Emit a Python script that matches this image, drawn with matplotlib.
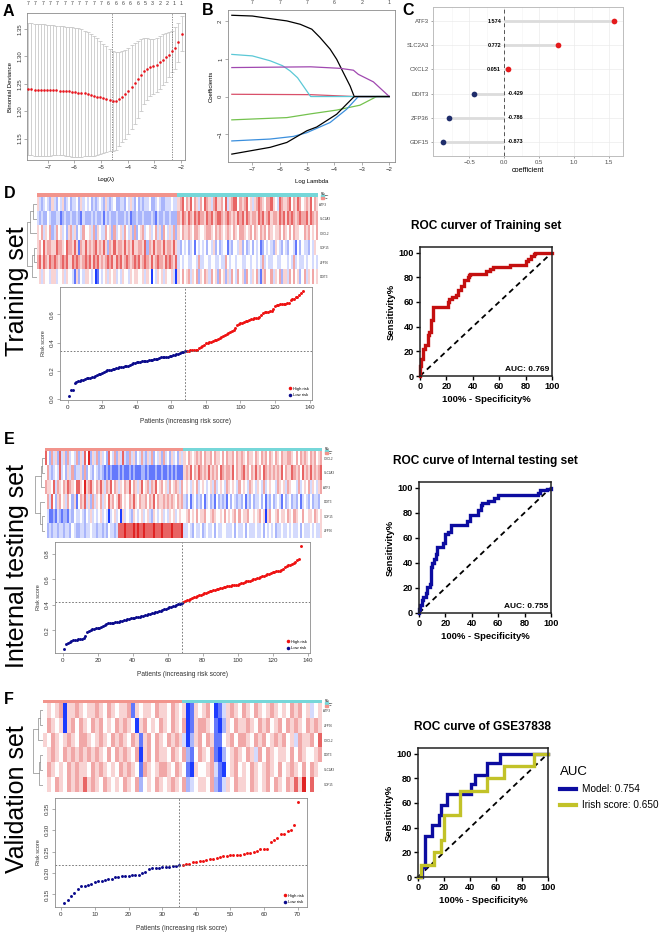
import numpy as np
import matplotlib
matplotlib.use("Agg")
import matplotlib.pyplot as plt
from matplotlib.colors import LinearSegmentedColormap, ListedColormap

plt.rcParams["font.family"] = ["Liberation Sans", "DejaVu Sans"]

# ---------------------------------------------------------------- data
# A: LASSO cross-validation curve
log_lambda = np.linspace(-7.73, -1.98, 50)
cv_mean = [1.240, 1.240, 1.2395, 1.239, 1.239, 1.2387, 1.2385, 1.238, 1.238, 1.2378,
           1.2375, 1.237, 1.2365, 1.236, 1.235, 1.2344, 1.234, 1.233, 1.2326, 1.231,
           1.2295, 1.228, 1.2265, 1.225, 1.2234, 1.222, 1.2203, 1.2185, 1.219, 1.222,
           1.2265, 1.231, 1.2375, 1.2436, 1.251, 1.258, 1.266, 1.2735, 1.277, 1.2797,
           1.2815, 1.2846, 1.289, 1.2937, 1.298, 1.303, 1.309, 1.315, 1.3255, 1.341]
cv_sd = [0.120, 0.120, 0.1203, 0.1205, 0.120, 0.1198, 0.1195, 0.1193, 0.1186, 0.118,
         0.1175, 0.1175, 0.1175, 0.1175, 0.1177, 0.1176, 0.117, 0.1167, 0.1144, 0.113,
         0.1105, 0.109, 0.1065, 0.103, 0.0996, 0.096, 0.0927, 0.0905, 0.089, 0.086,
         0.0825, 0.081, 0.0785, 0.0764, 0.074, 0.070, 0.066, 0.0605, 0.057, 0.0523,
         0.0495, 0.0494, 0.048, 0.0463, 0.044, 0.041, 0.038, 0.038, 0.0355, 0.032]
lambda_min, lambda_1se = -4.6, -2.33
top_counts_a = [7] * 11 + [6] * 5 + [5, 3, 2, 2, 1, 1]

# B: coefficient paths (log lambda, coefficient)
paths = [
    ([-7.75, -7.0, -6.35, -5.74, -5.25, -4.83, -4.53, -4.16, -3.92, -3.68, -3.43, -3.28, -2.0],
     [2.16, 2.14, 2.07, 2.01, 1.92, 1.79, 1.57, 1.26, 0.99, 0.64, 0.28, 0.0, 0.0], "black"),
    ([-7.75, -4.87, -3.28, -2.0], [0.06, 0.05, 0.0, 0.0], "#D9506A"),
    ([-7.75, -5.74, -4.87, -3.92, -3.07, -2.46, -2.0], [-0.62, -0.56, -0.46, -0.36, -0.23, 0.0, 0.0], "#74C24E"),
    ([-7.75, -6.35, -5.5, -5.01, -4.16, -3.56, -3.13, -2.0], [-1.18, -1.13, -1.06, -0.96, -0.69, -0.34, 0.0, 0.0], "#3B8FDD"),
    ([-7.75, -7.0, -6.35, -5.9, -5.62, -5.35, -5.14, -4.95, -4.87, -2.0],
     [1.12, 1.08, 0.95, 0.82, 0.68, 0.50, 0.28, 0.08, 0.0, 0.0], "#5BC8D6"),
    ([-7.75, -4.87, -3.8, -3.31, -3.13, -2.58, -2.0], [0.77, 0.79, 0.75, 0.70, 0.59, 0.39, 0.0], "#A048B0"),
    ([-7.75, -6.35, -5.74, -5.01, -4.65, -3.92, -3.28, -2.0], [-1.53, -1.35, -1.22, -0.91, -0.81, -0.47, 0.0, 0.0], "black"),
]
top_counts_b = [7, 7, 7, 6, 2, 1]

# C: model coefficients
coef_genes = ["ATF3", "SLC2A3", "CXCL2", "DDIT3", "ZFP36", "GDF15"]
coef_values = [1.574, 0.772, 0.051, -0.429, -0.786, -0.873]

# heatmaps: one character per patient, 0 = deep blue, 4 = white, 8 = deep red
d_genes = ["ATF3", "SLC2A3", "CXCL2", "GDF15", "ZFP36", "DDIT3"]
d_rows = [
    "53234325 32435234 23342534 34232343 25323422 33243532 42323342 23432233 34335674 65746536 47653675 56473567 74656745 35676546 67543765 56746576 45657465",
    "32322432 23312322 32232132 22323223 13232232 22323122 32232223 21322322 32226576 57657676 65767567 76567656 57675765 66576756 75665767 57676567 66757656",
    "54635462 36453425 63524364 45362543 36452634 53643526 24563453 46352643 53625465 56546654 45665465 65456546 54665456 46546564 65455646 54646554 46564546",
    "56475665 57665476 65751657 56567565 75265756 65756575 56657265 75665756 65753243 42341434 34243524 23441324 43524234 24341243 43254324 32443142 43324354",
    "67576576 76567675 57676567 67576756 56767576 75676567 67567657 56766576 76573434 43344363 34434433 43364344 34433443 44343634 33443344 43436343 34344343",
    "45354435 53445354 43152435 54340143 45354534 35443545 54453540 43545354 45305464 56354625 46536452 64525364 36452643 54631564 46354625 53646452 46354645",
]
e_genes = ["CXCL2", "SLC2A3", "ATF3", "DDIT3", "GDF15", "ZFP36"]
e_rows = [
    "74263527 35263436 25374825 36253427 43625373 26352436 32536243 52634253 42535465 45656465 56465546 46556465 65465546 54656465 46546556 65464656 54656456",
    "46323437 34253623 35262432 43232121 21112121 12121112 21211121 12112121 21115657 46576565 75656476 56657465 67564657 56476565 65657465 57656475 65756567",
    "65547365 46576547 75485675 46575365 74653546 57465357 45636574 56453645 65364543 54634543 45363454 36545436 45436543 54363454 43654536 54436345 46354356",
    "46374256 45364251 46573526 35463547 56457645 46575465 56465746 55656565 46563241 34232413 42314232 31424323 24132423 34241324 23431423 42324134 32423324",
    "43112132 12213243 34324353 43453430 34534053 43254345 34532543 45343545 34544564 54645564 45654454 64545646 45564454 56450564 45645546 54654464 45546545",
    "42323323 32332432 23323343 32332324 33237778 77787877 87777877 78777787 77783343 24334234 33424334 43334243 34243334 33424343 42334334 34334243 33434335",
]
f_genes = ["ATF3", "ZFP36", "CXCL2", "DDIT3", "SLC2A3", "GDF15"]
f_rows = [
    "4545605565 4556546545 5615455465 5465450154 5640135654 6546545654 5465645345",
    "4654505646 5465645465 6540564546 5465460156 6541025465 5654656456 4656546565",
    "5465456546 6545654656 5465156465 4656530256 4651145646 6546564565 6453655647",
    "4565465656 5656546465 6546056465 5465462146 5461024565 4653646545 5464654456",
    "4654546565 5465654546 5654165456 6546541054 4563104564 5465456546 4565464654",
    "4546546565 7565465454 6546245465 4565462345 5462135465 5465456465 4657584744",
]
d_merges = [(0, 1, 0.45), (6, 2, 0.7), (3, 4, 0.3), (8, 5, 0.5), (7, 9, 1.0)]
e_merges = [(0, 1, 0.3), (6, 2, 0.45), (4, 5, 0.35), (3, 8, 0.55), (7, 9, 1.0)]
f_merges = [(0, 1, 0.35), (6, 2, 0.5), (3, 4, 0.3), (8, 5, 0.45), (7, 9, 1.0)]

# risk score curves (sorted patients)
d_scores = [0.02, 0.06, 0.065, 0.11, 0.12, 0.125, 0.125, 0.13, 0.13, 0.14,
            0.145, 0.146, 0.15, 0.152, 0.156, 0.158, 0.165, 0.175, 0.177, 0.18,
            0.19, 0.20, 0.202, 0.205, 0.207, 0.21, 0.214, 0.217, 0.22, 0.224,
            0.226, 0.228, 0.23, 0.232, 0.236, 0.24, 0.245, 0.254, 0.257, 0.26,
            0.262, 0.264, 0.265, 0.267, 0.268, 0.27, 0.273, 0.275, 0.278, 0.28,
            0.283, 0.286, 0.29, 0.294, 0.297, 0.298, 0.299, 0.30, 0.302, 0.305,
            0.308, 0.312, 0.315, 0.32, 0.326, 0.33, 0.333, 0.336,
            0.34, 0.342, 0.344, 0.346, 0.347, 0.348, 0.35, 0.36, 0.37, 0.375, 0.385, 0.395,
            0.40, 0.402, 0.405, 0.41, 0.415, 0.42, 0.428, 0.435, 0.442, 0.449,
            0.455, 0.46, 0.468, 0.475, 0.48, 0.488, 0.50, 0.525, 0.53, 0.537,
            0.54, 0.545, 0.55, 0.555, 0.56, 0.565, 0.568, 0.572, 0.575, 0.578,
            0.58, 0.595, 0.61, 0.615, 0.618, 0.62, 0.625, 0.627, 0.64, 0.663,
            0.666, 0.668, 0.672, 0.674, 0.676, 0.678, 0.68, 0.682, 0.70, 0.707,
            0.71, 0.722, 0.725, 0.74, 0.754, 0.766]
e_scores = [0.055, 0.095, 0.105, 0.108, 0.12, 0.125, 0.127, 0.128, 0.13, 0.132,
            0.135, 0.14, 0.16, 0.19, 0.195, 0.205, 0.208, 0.212, 0.216, 0.22,
            0.222, 0.225, 0.235, 0.245, 0.253, 0.256, 0.258, 0.26, 0.262, 0.265,
            0.267, 0.27, 0.272, 0.275, 0.28, 0.285, 0.288, 0.29, 0.294, 0.297,
            0.30, 0.302, 0.305, 0.307, 0.31, 0.314, 0.318, 0.322, 0.326, 0.33,
            0.334, 0.338, 0.342, 0.346, 0.352, 0.356, 0.36, 0.366, 0.37, 0.376,
            0.38, 0.385, 0.39, 0.395, 0.40, 0.405, 0.41, 0.415,
            0.425, 0.43, 0.435, 0.44, 0.45, 0.455, 0.46, 0.465, 0.47, 0.475, 0.48, 0.485,
            0.49, 0.495, 0.50, 0.51, 0.512, 0.515, 0.518, 0.522, 0.526, 0.53,
            0.534, 0.538, 0.542, 0.545, 0.548, 0.55, 0.553, 0.555, 0.558, 0.56,
            0.565, 0.57, 0.575, 0.58, 0.585, 0.588, 0.59, 0.595, 0.60, 0.605,
            0.61, 0.615, 0.62, 0.625, 0.63, 0.635, 0.642, 0.645, 0.65, 0.655,
            0.66, 0.664, 0.668, 0.67, 0.673, 0.68, 0.70, 0.705, 0.71, 0.715,
            0.72, 0.73, 0.74, 0.75, 0.758, 0.862]
f_scores = [0.130, 0.138, 0.147, 0.153, 0.162, 0.169, 0.169, 0.171, 0.175, 0.178,
            0.181, 0.181, 0.183, 0.185, 0.185, 0.190, 0.191, 0.192, 0.192, 0.194,
            0.195, 0.195, 0.195, 0.201, 0.203, 0.209, 0.211, 0.212, 0.212, 0.213,
            0.214, 0.215, 0.216, 0.216, 0.218,
            0.219, 0.220, 0.221, 0.225, 0.226, 0.227, 0.229, 0.230, 0.232, 0.233,
            0.236, 0.238, 0.240, 0.240, 0.241, 0.241, 0.242, 0.243, 0.244, 0.246,
            0.247, 0.250, 0.252, 0.256, 0.257, 0.257, 0.272, 0.278, 0.282, 0.292,
            0.292, 0.298, 0.301, 0.313, 0.366]
d_low, e_low, f_low = 68, 68, 35
d_cut, e_cut, f_cut = 0.337, 0.42, 0.218

# ROC curves (100% - specificity, sensitivity), step vertices
train_fpr = [0, 0, 1, 1, 2, 2, 4, 4, 6, 6, 7, 7, 8, 8, 10, 10, 21, 21, 22, 22, 24, 24, 27, 27, 29, 29, 31, 31,
             33, 33, 36, 36, 37, 37, 38, 38, 50, 50, 53, 53, 55, 55, 68, 68, 80, 80, 82, 82, 84, 84, 86, 86,
             87, 87, 100]
train_tpr = [0, 8, 8, 14, 14, 22, 22, 25, 25, 33, 33, 36, 36, 45, 45, 56, 56, 60, 60, 62, 62, 64, 64, 66, 66, 70,
             70, 73, 73, 78, 78, 80, 80, 82, 82, 83, 83, 85, 85, 87, 87, 88, 88, 90, 90, 93, 93, 95, 95, 97, 97,
             99, 99, 100, 100]
test_fpr = [0, 0, 1, 1, 2, 2, 3, 3, 5, 5, 6, 6, 8, 8, 9, 9, 10, 10, 11, 11, 13, 13, 14, 14, 18, 18, 20, 20, 22,
            22, 24, 24, 36, 36, 39, 39, 45, 45, 47, 47, 48, 48, 52, 52, 57, 57, 60, 60, 90, 90, 92, 92, 97, 97,
            100, 100]
test_tpr = [0, 3, 3, 6, 6, 10, 10, 13, 13, 16, 16, 21, 21, 23, 23, 37, 37, 40, 40, 43, 43, 47, 47, 53, 53, 56,
            56, 63, 63, 65, 65, 70, 70, 73, 73, 78, 78, 82, 82, 86, 86, 88, 88, 89, 89, 92, 92, 94, 94, 96, 96,
            98, 98, 99, 99, 100]
model_fpr = [0, 3, 3, 5, 5, 11, 11, 16, 16, 18, 18, 22, 22, 41, 41, 44, 44, 53, 53, 63, 63, 100]
model_tpr = [0, 0, 8, 8, 33, 33, 42, 42, 50, 50, 58, 58, 67, 67, 75, 75, 83, 83, 92, 92, 100, 100]
irish_fpr = [0, 2, 2, 12, 12, 18, 18, 20, 20, 32, 32, 53, 53, 66, 66, 89, 89, 100]
irish_tpr = [0, 0, 10, 10, 20, 20, 30, 30, 50, 50, 70, 70, 80, 80, 90, 90, 100, 100]

# ---------------------------------------------------------------- figure
W, H = 661, 938
fig = plt.figure(figsize=(W / 100, H / 100), dpi=100)


def axes_px(x0, y0, x1, y1):
    return fig.add_axes([x0 / W, 1 - y1 / H, (x1 - x0) / W, (y1 - y0) / H])


def r_style(ax, fs=4.3):
    for s in ax.spines.values():
        s.set_color("#8c8c8c")
        s.set_linewidth(0.6)
    ax.tick_params(labelsize=fs, length=2, width=0.5, color="#8c8c8c", labelcolor="#333333", pad=1.5)
    plt.setp(ax.get_yticklabels(), rotation=90, va="center")


def panel_letter(x, y, s):
    fig.text(x / W, 1 - y / H, s, fontsize=11.5, fontweight="bold", va="top", ha="left")


# pale in the middle range, saturated only at the extremes (pheatmap look)
heat_cmap = LinearSegmentedColormap.from_list(
    "soft_bwr", [(0.0, "#1d3cff"), (0.25, "#a9b5fb"), (0.5, "#ffffff"), (0.75, "#f2a9a9"), (1.0, "#e02424")])
risk_cmap = ListedColormap(["#F2948C", "#76D7D9"])

# A
ax = axes_px(27, 13, 185, 160)
ax.errorbar(log_lambda, cv_mean, yerr=cv_sd, fmt="none", ecolor="#c4c4c4", elinewidth=0.55,
            capsize=1.3, capthick=0.55)
ax.scatter(log_lambda, cv_mean, s=3.5, color="#e8141c", lw=0, zorder=3)
for v in (lambda_min, lambda_1se):
    ax.axvline(v, color="#777777", ls=(0, (1.5, 1.5)), lw=0.6)
ax.set_xlim(-7.78, -1.85)
ax.set_ylim(1.111, 1.379)
ax.set_xticks([-7, -6, -5, -4, -3, -2])
ax.set_yticks([1.15, 1.20, 1.25, 1.30, 1.35])
ax.set_yticklabels(["1.15", "1.20", "1.25", "1.30", "1.35"])
r_style(ax)
ax.set_xlabel("Log(\u03bb)", fontsize=4.3, labelpad=5)
ax.set_ylabel("Binomial Deviance", fontsize=4.3, labelpad=3)
for x, c in zip(np.linspace(log_lambda[0], log_lambda[-1], len(top_counts_a)), top_counts_a):
    ax.text(x, 1.045, str(c), transform=ax.get_xaxis_transform(), fontsize=3.8, color="#444444",
            ha="center", va="bottom")
panel_letter(3, 4, "A")

# B
ax = axes_px(228, 10, 395, 162)
for xs, ys, col in paths:
    ax.plot(xs, ys, color=col, lw=0.9)
ax.set_xlim(-7.89, -1.79)
ax.set_ylim(-1.74, 2.3)
ax.set_xticks([-7, -6, -5, -4, -3, -2])
ax.set_yticks([-1, 0, 1, 2])
r_style(ax)
ax.set_ylabel("Coefficients", fontsize=4.3, labelpad=3)
ax.set_xlabel("Log Lambda", fontsize=4.3, labelpad=5)
for x, c in zip([-7, -6, -5, -4, -3, -2], top_counts_b):
    ax.text(x, 1.03, str(c), transform=ax.get_xaxis_transform(), fontsize=3.8, color="#444444",
            ha="center", va="bottom")
panel_letter(202, 3, "B")

# C
ax = axes_px(433, 7, 623, 156)
ypos = np.arange(len(coef_genes), 0, -1)
for y, v in zip(ypos, coef_values):
    ax.plot([0, v], [y, y], color="#dcdcdc", lw=2.0, solid_capstyle="butt", zorder=1)
    ax.scatter(v, y, s=17, color="#E41A1C" if v > 0 else "#1F2D6B", zorder=3, lw=0)
    if v > 0:
        ax.text(-0.045, y, f"{v:.3f}", ha="right", va="center", fontsize=4.0, fontweight="bold")
    else:
        ax.text(0.045, y, f"{v:.3f}", ha="left", va="center", fontsize=4.0, fontweight="bold")
ax.axvline(0, color="#555555", ls=(0, (4, 3)), lw=0.7, zorder=2)
ax.set_xlim(-1.02, 1.70)
ax.set_ylim(0.4, 6.6)
ax.set_xticks([-0.5, 0.0, 0.5, 1.0, 1.5])
ax.set_xticks([-0.75, -0.25, 0.25, 0.75, 1.25], minor=True)
ax.set_yticks(ypos)
ax.set_yticklabels(coef_genes)
ax.grid(True, which="major", color="#ebebeb", lw=0.5)
ax.grid(True, which="minor", axis="x", color="#f4f4f4", lw=0.4)
ax.set_axisbelow(True)
for s in ax.spines.values():
    s.set_color("#bdbdbd")
    s.set_linewidth(0.7)
ax.tick_params(labelsize=4.3, length=1.5, width=0.4, color="#666666", labelcolor="#4d4d4d", pad=1.5)
ax.tick_params(which="minor", length=0)
ax.set_xlabel("coefficient", fontsize=5.2, labelpad=1.5)
panel_letter(402, 3, "C")


def heatmap(x0, x1, ybar, y0, y1, rows, genes, merges, n_low):
    mat = np.array([[int(c) for c in r.replace(" ", "")] for r in rows])
    n_pat = mat.shape[1]
    axb = axes_px(x0, ybar, x1, y0)
    axb.imshow(np.repeat([0, 1], [n_low, n_pat - n_low])[None, :], cmap=risk_cmap, aspect="auto",
               interpolation="nearest")
    axb.axis("off")
    axh = axes_px(x0, y0, x1, y1)
    axh.imshow((mat - 4) / 4.0, cmap=heat_cmap, vmin=-1, vmax=1, aspect="auto", interpolation="nearest")
    axh.set_xticks([])
    axh.yaxis.tick_right()
    axh.set_yticks(range(len(genes)))
    axh.set_yticklabels(genes, fontsize=2.2, color="#333333")
    axh.tick_params(length=0, pad=1)
    for s in axh.spines.values():
        s.set_visible(False)
    axd = axes_px(x0 - 10, y0, x0, y1)
    n = len(genes)
    pos = {i: float(i) for i in range(n)}
    hgt = {i: 0.0 for i in range(n)}
    for k, (a, b, h) in enumerate(merges):
        axd.plot([hgt[a], h, h, hgt[b]], [pos[a], pos[a], pos[b], pos[b]], color="#8a8a8a", lw=0.5)
        pos[n + k] = (pos[a] + pos[b]) / 2
        hgt[n + k] = h
    axd.set_ylim(n - 0.5, -0.5)
    axd.set_xlim(1.05, 0)
    axd.axis("off")
    # tiny annotation legend
    fig.text((x1 + 3) / W, 1 - (ybar + 1) / H, "Risk", fontsize=1.8, va="center")
    for i, (lab, col) in enumerate([("high", "#76D7D9"), ("low", "#F2948C")]):
        fig.patches.append(plt.Rectangle(((x1 + 3) / W, 1 - (ybar + 4 + 2.5 * i) / H), 2.5 / W, 2 / H,
                                         color=col, transform=fig.transFigure))
        fig.text((x1 + 6.5) / W, 1 - (ybar + 3 + 2.5 * i) / H, lab, fontsize=1.6, va="center")


def risk_plot(x0, y0, x1, y1, scores, n_low, cut, yticks, xticks, xlabel):
    ax = axes_px(x0, y0, x1, y1)
    scores = np.asarray(scores)
    idx = np.arange(1, len(scores) + 1)
    ax.scatter(idx[n_low:], scores[n_low:], s=4.5, color="#EE1111", lw=0, label="High risk")
    ax.scatter(idx[:n_low], scores[:n_low], s=4.5, color="#0A0A8C", lw=0, label="Low risk")
    ax.axvline(n_low, color="#666666", ls=(0, (2, 2)), lw=0.6)
    ax.axhline(cut, color="#666666", ls=(0, (2, 2)), lw=0.6)
    pad_x = 0.04 * (len(scores) - 1)
    pad_y = 0.04 * (scores.max() - scores.min())
    ax.set_xlim(1 - pad_x, len(scores) + pad_x)
    ax.set_ylim(scores.min() - pad_y, scores.max() + pad_y)
    ax.set_xticks(xticks)
    ax.set_yticks(yticks)
    r_style(ax, fs=4.5)
    ax.set_xlabel(xlabel, fontsize=4.8, labelpad=6, color="#333333")
    ax.set_ylabel("Risk score", fontsize=4.0, labelpad=3, color="#333333")
    ax.legend(loc="lower right", fontsize=3.0, frameon=False, markerscale=1.2, handletextpad=0.1,
              borderaxespad=0.4, labelspacing=0.5, handlelength=1.0)


def roc_panel(x0, y0, x1, y1, title, curves, auc_text=None):
    ax = axes_px(x0, y0, x1, y1)
    ax.plot([0, 100], [0, 100], color="black", ls=(0, (3, 2.2)), lw=1.3)
    for xs, ys, col, lab in curves:
        ax.plot(xs, ys, color=col, lw=2.4, label=lab, solid_joinstyle="miter", clip_on=False)
    ax.set_xlim(0, 100)
    ax.set_ylim(0, 104.5)
    ax.set_xticks(range(0, 101, 20))
    ax.set_yticks(range(0, 101, 20))
    for s in ax.spines.values():
        s.set_linewidth(1.1)
        s.set_color("#222222")
    ax.tick_params(labelsize=6.6, length=3, width=1.0, pad=1.5)
    for lbl in ax.get_xticklabels() + ax.get_yticklabels():
        lbl.set_fontweight("bold")
    ax.set_xlabel("100% - Specificity%", fontsize=6.8, fontweight="bold", labelpad=3)
    ax.set_ylabel("Sensitivity%", fontsize=6.8, fontweight="bold", labelpad=2)
    ax.set_title(title, fontsize=8.6, fontweight="bold", pad=13)
    if auc_text:
        ax.text(98, 2.5, auc_text, ha="right", va="bottom", fontsize=6.0, fontweight="bold")
    return ax


# D
panel_letter(4, 186, "D")
fig.text(17 / W, 1 - 291 / H, "Training set", rotation=90, fontsize=18, ha="center", va="center")
heatmap(37, 318, 193, 197, 284, d_rows, d_genes, d_merges, d_low)
risk_plot(60, 287, 312, 400, d_scores, d_low, d_cut, [0.0, 0.2, 0.4, 0.6], range(0, 141, 20),
          "Patients (increasing risk socre)")
roc_panel(420, 247, 552, 376, "ROC curver of Training set",
          [(train_fpr, train_tpr, "#C40F0F", None)], "AUC: 0.769")

# E
panel_letter(4, 432, "E")
fig.text(17 / W, 1 - 566 / H, "Internal testing set", rotation=90, fontsize=18, ha="center", va="center")
heatmap(45, 322, 448, 451, 538, e_rows, e_genes, e_merges, e_low)
risk_plot(55, 542, 310, 653, e_scores, e_low, e_cut, [0.2, 0.4, 0.6, 0.8], range(0, 141, 20),
          "Patients (increasing risk score)")
roc_panel(419, 482, 551, 613, "ROC curve of Internal testing set",
          [(test_fpr, test_tpr, "#0C0CA0", None)], "AUC: 0.755")

# F
panel_letter(4, 692, "F")
fig.text(17 / W, 1 - 799 / H, "Validation set", rotation=90, fontsize=18, ha="center", va="center")
heatmap(43, 322, 700, 703, 792, f_rows, f_genes, f_merges, f_low)
risk_plot(55, 798, 307, 907, f_scores, f_low, f_cut, [0.15, 0.20, 0.25, 0.30, 0.35], range(0, 71, 10),
          "Patients (increasing risk socre)")
ax = roc_panel(418, 748, 548, 877, "ROC curve of GSE37838",
               [(model_fpr, model_tpr, "#0C0CA0", "Model: 0.754"),
                (irish_fpr, irish_tpr, "#C2C228", "Irish score: 0.650")])
leg = ax.legend(title="AUC", loc="upper left", bbox_to_anchor=(1.02, 0.93), frameon=False, fontsize=7.2,
                title_fontsize=9.5, handlelength=1.6, handletextpad=0.6, labelspacing=0.6, alignment="left")
for line in leg.get_lines():
    line.set_linewidth(3)

fig.savefig("out.png", dpi=100)
